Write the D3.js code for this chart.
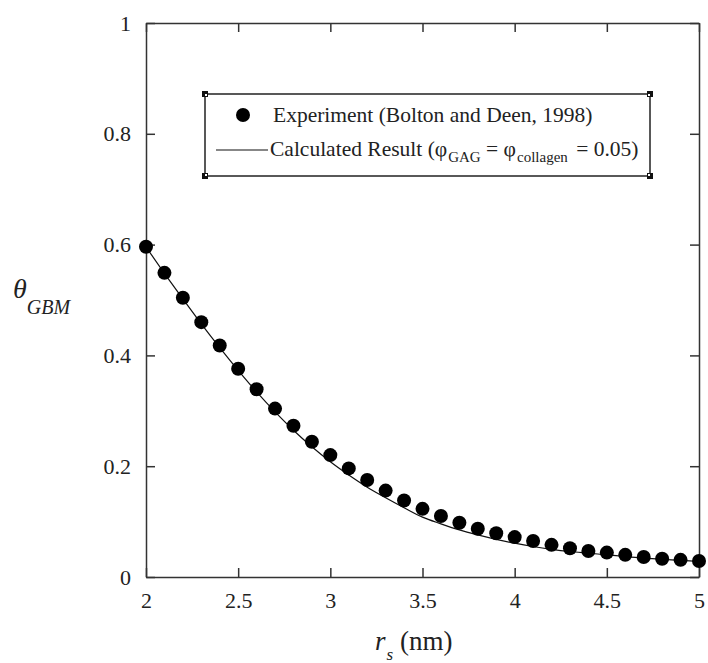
<!DOCTYPE html>
<meta charset="utf-8">
<head>
	<style>
		body {
			margin: 0;
			background: white;
		}
		svg text {
			font-family: "Liberation Serif", Tinos, "DejaVu Serif", serif !important;
		}
		.axis path, .axis line {
			stroke: #333;
			stroke-width: 1.5px;
		}
		.axis text {
			font-size: 22px;
			fill: #222;
		}
	</style>
	<script src="https://cdn.jsdelivr.net/npm/d3@7"></script>
</head>
<body>
	<svg id="chart"></svg>
</body>

<script>

// r_s values (nm), one per experimental point
let radii = [2.0, 2.1, 2.2, 2.3, 2.4, 2.5, 2.6, 2.7, 2.8, 2.9, 3.0,
	3.1, 3.2, 3.3, 3.4, 3.5, 3.6, 3.7, 3.8, 3.9, 4.0,
	4.1, 4.2, 4.3, 4.4, 4.5, 4.6, 4.7, 4.8, 4.9, 5.0]

// Experiment (Bolton and Deen, 1998)
let experiment = [0.596, 0.549, 0.504, 0.460, 0.418, 0.376, 0.339, 0.304, 0.273, 0.244, 0.220,
	0.196, 0.175, 0.156, 0.138, 0.123, 0.110, 0.098, 0.087, 0.079, 0.072,
	0.065, 0.058, 0.052, 0.047, 0.044, 0.040, 0.036, 0.033, 0.031, 0.029]

// Calculated result, read at the same r_s
let calculated = [0.596, 0.548, 0.502, 0.457, 0.414, 0.373, 0.334, 0.298, 0.265, 0.235, 0.208,
	0.184, 0.162, 0.143, 0.125, 0.108, 0.096, 0.085, 0.076, 0.068, 0.061,
	0.055, 0.050, 0.046, 0.043, 0.040, 0.037, 0.034, 0.032, 0.030, 0.028]

let xTicks = [2, 2.5, 3, 3.5, 4, 4.5, 5]
let yTicks = [0, 0.2, 0.4, 0.6, 0.8, 1]

const serif = "'Liberation Serif', Tinos, 'DejaVu Serif', serif"

function getConfig() {
	let width = 708
	let height = 663
	let margin = {top: 23, right: 9, bottom: 86, left: 146}
	let bodyWidth = width - margin.left - margin.right
	let bodyHeight = height - margin.top - margin.bottom

	let container = d3.select("#chart")
		.attr("width", width)
		.attr("height", height)
		.attr("font-family", serif)

	return { width, height, margin, bodyWidth, bodyHeight, container }
}

function getScales(config) {
	let xScale = d3.scaleLinear().domain([2, 5]).range([0, config.bodyWidth])
	let yScale = d3.scaleLinear().domain([0, 1]).range([config.bodyHeight, 0])
	return { xScale, yScale }
}

function drawAxes(scales, config) {
	let { xScale, yScale } = scales
	let { container, margin, bodyWidth, bodyHeight } = config
	let tick = -9 // ticks point into the plot

	container.append("g").attr("class", "axis")
		.attr("transform", `translate(${margin.left},${margin.top + bodyHeight})`)
		.call(d3.axisBottom(xScale).tickValues(xTicks).tickSize(tick).tickPadding(15).tickSizeOuter(0).tickFormat(d3.format("")))
		.attr("font-family", serif).attr("font-size", 22)

	container.append("g").attr("class", "axis")
		.attr("transform", `translate(${margin.left},${margin.top})`)
		.call(d3.axisTop(xScale).tickValues(xTicks).tickSize(tick).tickSizeOuter(0).tickFormat(""))

	container.append("g").attr("class", "axis")
		.attr("transform", `translate(${margin.left},${margin.top})`)
		.call(d3.axisLeft(yScale).tickValues(yTicks).tickSize(tick).tickPadding(15).tickSizeOuter(0).tickFormat(d3.format("")))
		.attr("font-family", serif).attr("font-size", 22)

	container.append("g").attr("class", "axis")
		.attr("transform", `translate(${margin.left + bodyWidth},${margin.top})`)
		.call(d3.axisRight(yScale).tickValues(yTicks).tickSize(tick).tickSizeOuter(0).tickFormat(""))

	// x label: r_s (nm)
	let xl = container.append("text")
		.attr("x", 375).attr("y", 650)
		.style("font-size", "27px").attr("fill", "#222")
	xl.append("tspan").style("font-style", "italic").text("r")
	xl.append("tspan").style("font-style", "italic").style("font-size", "17px").attr("dy", 10).attr("dx", 1).text("s")
	xl.append("tspan").attr("dy", -10).text(" (nm)")

	// y label: theta_GBM
	let yl = container.append("text")
		.attr("x", 13).attr("y", 298)
		.style("font-size", "28px").attr("fill", "#222")
	yl.append("tspan").style("font-style", "italic").text("θ")
	yl.append("tspan").style("font-style", "italic").style("font-size", "20px").attr("dy", 16).text("GBM")
}

function drawData(scales, config) {
	let { xScale, yScale } = scales
	let { container, margin } = config

	let body = container.append("g")
		.attr("transform", `translate(${margin.left},${margin.top})`)

	let lineData = radii.map((r, i) => ({ r, v: calculated[i] }))
	let line = d3.line()
		.x(d => xScale(d.r))
		.y(d => yScale(d.v))
		.curve(d3.curveMonotoneX)

	body.append("path")
		.datum(lineData)
		.attr("d", line)
		.attr("fill", "none")
		.attr("stroke", "#111")
		.attr("stroke-width", 1.2)

	body.selectAll(".dot")
		.data(radii.map((r, i) => ({ r, v: experiment[i] })))
		.enter()
		.append("circle")
		.attr("class", "dot")
		.attr("cx", d => xScale(d.r))
		.attr("cy", d => yScale(d.v))
		.attr("r", 7)
		.attr("fill", "#000")
}

function drawLegend(config) {
	let { container } = config
	let box = { x: 205, y: 94, w: 445, h: 82 }

	let g = container.append("g")
	g.append("rect")
		.attr("x", box.x).attr("y", box.y)
		.attr("width", box.w).attr("height", box.h)
		.attr("fill", "white").attr("stroke", "#222").attr("stroke-width", 1.5)

	// little corner handles
	let corners = [[box.x, box.y, 1, 1], [box.x + box.w, box.y, -1, 1],
		[box.x, box.y + box.h, 1, -1], [box.x + box.w, box.y + box.h, -1, -1]]
	corners.forEach(c => {
		g.append("rect").attr("x", c[0] - 3).attr("y", c[1] - 3).attr("width", 6).attr("height", 6).attr("fill", "#111")
		g.append("rect").attr("x", c[0] + (c[2] > 0 ? 0 : -2)).attr("y", c[1] + (c[3] > 0 ? 0 : -2))
			.attr("width", 2).attr("height", 2).attr("fill", "white")
	})

	g.append("circle").attr("cx", 243).attr("cy", 115).attr("r", 7).attr("fill", "#000")
	g.append("text").attr("x", 273).attr("y", 122)
		.style("font-size", "21.5px").attr("fill", "#222")
		.text("Experiment (Bolton and Deen, 1998)")

	g.append("line").attr("x1", 216).attr("x2", 268).attr("y1", 150).attr("y2", 150)
		.attr("stroke", "#111").attr("stroke-width", 1.2)
	let t = g.append("text").attr("x", 270).attr("y", 156)
		.style("font-size", "21.5px").attr("fill", "#222")
	t.append("tspan").text("Calculated Result (φ")
	t.append("tspan").style("font-size", "15px").attr("dy", 6).attr("dx", 1).text("GAG")
	t.append("tspan").attr("dy", -6).text(" = φ")
	t.append("tspan").style("font-size", "15px").attr("dy", 6).attr("dx", 1).text("collagen")
	t.append("tspan").attr("dy", -6).attr("dx", 3).text(" = 0.05)")
}

let config = getConfig()
let scales = getScales(config)
drawAxes(scales, config)
drawData(scales, config)
drawLegend(config)

</script>
